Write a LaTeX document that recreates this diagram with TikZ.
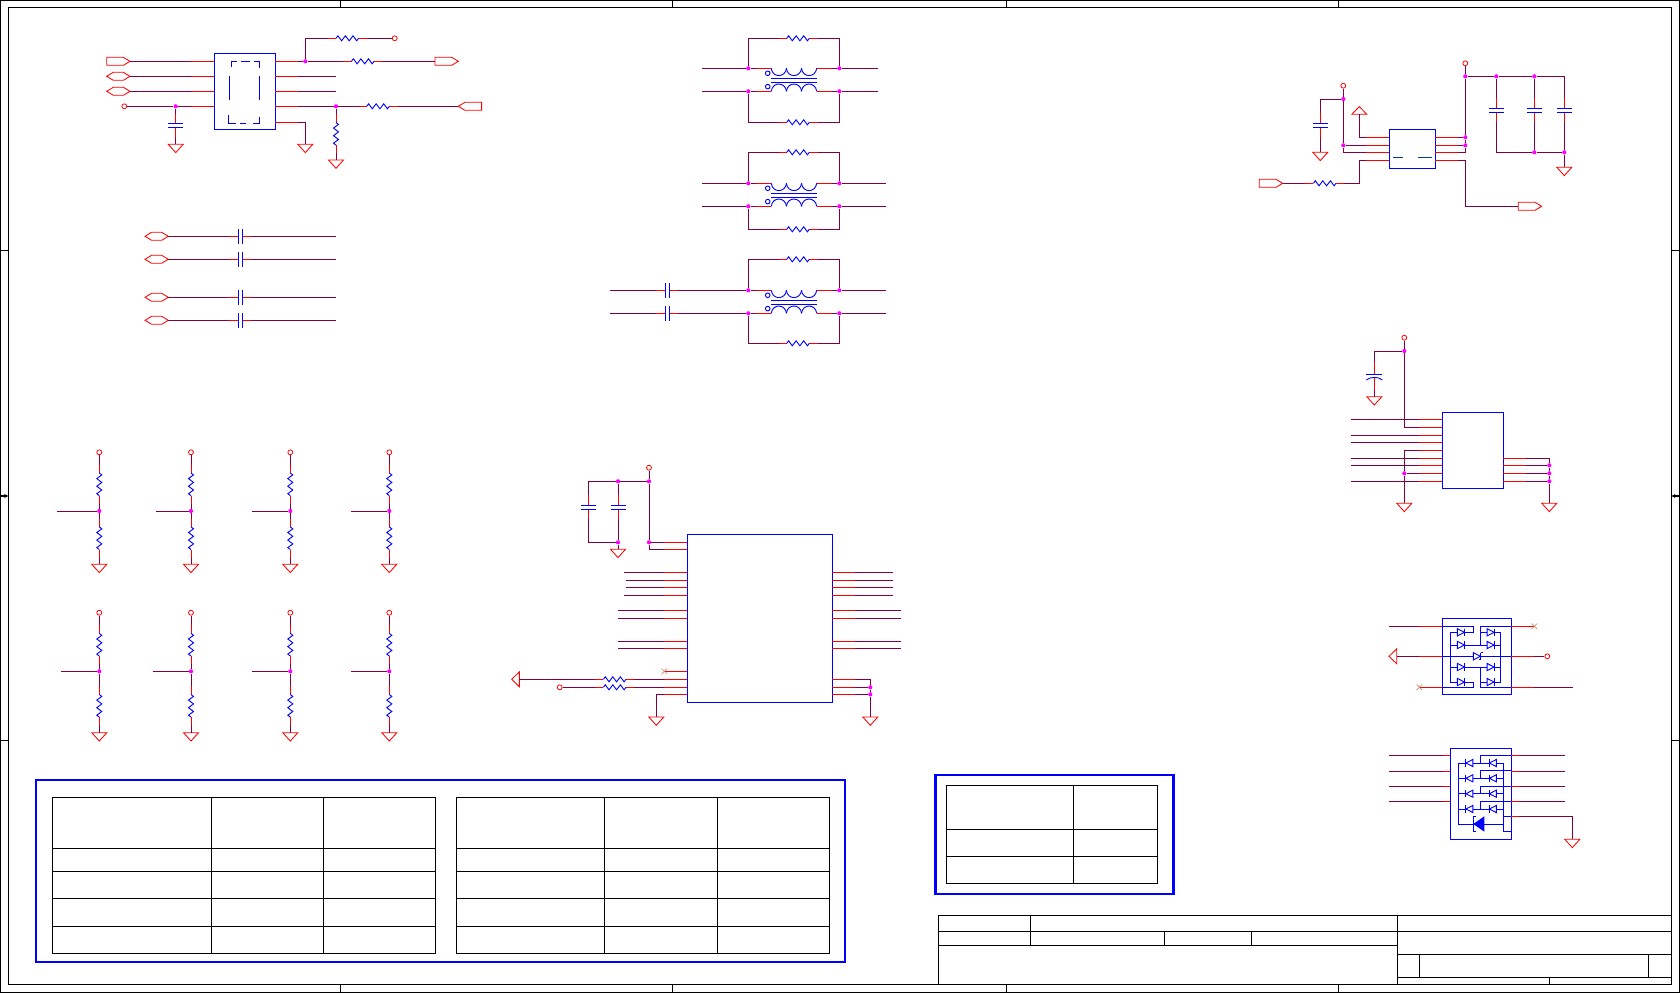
\documentclass[tikz,border=0pt]{standalone}
\usepackage{tikz}
\usetikzlibrary{arrows,shapes.misc}
\definecolor{wirec}{HTML}{800040}
\definecolor{partc}{HTML}{0000FF}
\definecolor{pinc}{HTML}{FF0000}
\definecolor{juncc}{HTML}{FF00FF}
\definecolor{ncc}{HTML}{C89070}
\definecolor{tealc}{HTML}{004080}

% Symbols
\tikzset{
  resh/.pic={
    \coordinate (-l) at (-19.5,0); \coordinate (-r) at (19.5,0);
    \draw[pinline] (-l) -- (-11.3,0) (11.3,0) -- (-r);
    \draw[partline] (-11.3,0) -- (-9.4,-2.5) -- (-5.7,2.5) -- (-1.9,-2.5) -- (1.9,2.5) -- (5.7,-2.5) -- (9.4,2.5) -- (11.3,0);
  },
  resv/.pic={
    \coordinate (-t) at (0,-19.5); \coordinate (-b) at (0,19.5);
    \draw[pinline] (-t) -- (0,-11.3) (0,11.3) -- (-b);
    \draw[partline] (0,-11.3) -- (2.5,-9.4) -- (-2.5,-5.7) -- (2.5,-1.9) -- (-2.5,1.9) -- (2.5,5.7) -- (-2.5,9.4) -- (0,11.3);
  },
  capv/.pic={
    \coordinate (-t) at (0,-12); \coordinate (-b) at (0,12);
    \draw[pinline] (-t) -- (0,-2) (0,2) -- (-b);
    \draw[partline] (-7.5,-2) -- (7.5,-2) (-7.5,2) -- (7.5,2);
  },
  capp/.pic={
    \coordinate (-t) at (0,-14); \coordinate (-b) at (0,14);
    \draw[pinline] (-t) -- (0,-2) (0,1) -- (-b);
    \draw[partline] (-8,-2) -- (8,-2);
    \draw[partline] (-8,4) .. controls (-4,0.5) and (4,0.5) .. (8,4);
  },
  caph/.pic={
    \coordinate (-l) at (-11,0); \coordinate (-r) at (11,0);
    \draw[pinline] (-l) -- (-2,0) (2,0) -- (-r);
    \draw[partline] (-2,-7.5) -- (-2,7.5) (2,-7.5) -- (2,7.5);
  },
  gnd/.pic={\draw[portline] (-7.5,0) -- (7.5,0) -- (0,8.3) -- cycle;},
  pwr/.pic={\draw[portline] (-7.5,0) -- (7.5,0) -- (0,-7.7) -- cycle;},
  portr/.pic={
    \coordinate (-w) at (0,0); \coordinate (-e) at (23.3,0);
    \draw[portline] (0,-4) -- (16.7,-4) -- (23.3,0) -- (16.7,4) -- (0,4) -- cycle;
  },
  portl/.pic={
    \coordinate (-w) at (0,0);
    \draw[portline] (23.3,-4) -- (6.6,-4) -- (0,0) -- (6.6,4) -- (23.3,4) -- cycle;
  },
  porth/.pic={
    \coordinate (-e) at (23.3,0);
    \draw[portline] (0,0) -- (6.6,-4) -- (16.7,-4) -- (23.3,0) -- (16.7,4) -- (6.6,4) -- cycle;
  },
  portt/.pic={
    \coordinate (-e) at (7.7,0);
    \draw[portline] (0,0) -- (7.7,-7.5) -- (7.7,7.5) -- cycle;
  },
  xfmr/.pic={
    \coordinate (-a) at (-38,0); \coordinate (-b) at (-38,23);
    \coordinate (-c) at (38,0); \coordinate (-d) at (38,23);
    \draw[pinline] (-a) -- (-22.7,0) (-b) -- (-22.7,23) (22.7,0) -- (-c) (22.7,23) -- (-d);
    \foreach \k in {-22.7,-7.6,7.5}
      \draw[partline] (\k,0) .. controls (\k+1,9.7) and (\k+14,9.7) .. (\k+15.2,0)
        (\k,23) .. controls (\k+1,13.3) and (\k+14,13.3) .. (\k+15.2,23);
    \draw[partline] (-23.3,10) -- (23.3,10) (-23.3,14) -- (23.3,14);
    \draw[partline] (-26.3,5) circle[radius=2.3] (-26.3,18.3) circle[radius=2.3];
  },
  diode/.pic={
    \draw[partline,fill=white] (-3.6,-3.6) -- (-3.6,3.6) -- (3.4,0) -- cycle;
    \draw[partline] (3.6,-3.6) -- (3.6,3.6);
  }
}

% Pins of a part: name, x of its edge, list of number/y
\newcommand{\pinsW}[3]{\foreach \i/\y in {#3}{\coordinate (#1w\i) at (#2-23,\y); \draw[pinline] (#1w\i) -- (#2,\y);}}
\newcommand{\pinsE}[3]{\foreach \i/\y in {#3}{\coordinate (#1e\i) at (#2+23,\y); \draw[pinline] (#2,\y) -- (#1e\i);}}

\begin{document}
\begin{tikzpicture}[> = stealth, x=0.05cm, y=-0.05cm]
    \useasboundingbox (0,0) rectangle (1680,993);

    % Styles
    \tikzstyle{wire}=[draw=wirec, line width=1.4pt]
    \tikzstyle{pinline}=[draw=pinc, line width=1.4pt]
    \tikzstyle{partline}=[draw=partc, line width=1.3pt]
    \tikzstyle{portline}=[draw=pinc, line width=1.2pt, line join=miter]
    \tikzstyle{part}=[rectangle, draw=partc, line width=1.8pt, inner sep=0pt]
    \tikzstyle{junc}=[circle, fill=juncc, inner sep=0pt, minimum size=6pt]
    \tikzstyle{term}=[circle, draw=pinc, line width=1.1pt, inner sep=0pt, minimum size=7pt]
    \tikzstyle{noconn}=[cross out, draw=ncc, line width=1pt, inner sep=0pt, minimum size=7pt]
    \tikzstyle{frameline}=[draw=black, line width=1.6pt]
    \tikzstyle{cellline}=[draw=black, line width=1.4pt]
    \tikzstyle{bandline}=[draw=partc, line width=3pt]

    % Sheet frame
    \draw[frameline] (0.7,0.7) rectangle (1679.3,992.3);
    \draw[frameline] (8.3,7.3) rectangle (1671.3,984.3);
    \foreach \x in {340.7,672.9,1006.3,1338.3}
      \draw[frameline] (\x,0.7) -- (\x,7.3) (\x,984.3) -- (\x,992.3);
    \foreach \y in {250.7,740.4}
      \draw[frameline] (0.7,\y) -- (8.3,\y) (1671.3,\y) -- (1679.3,\y);
    \draw[frameline,->] (0.7,496) -- (8.3,496);
    \draw[frameline,->] (1679.3,496) -- (1671.3,496);

    % Title block
    \draw[cellline] (938.4,984.3) -- (938.4,915.3) -- (1671.3,915.3);
    \draw[cellline] (938.4,931.3) -- (1671.3,931.3);
    \draw[cellline] (938.4,945.3) -- (1397.5,945.3);
    \draw[cellline] (1030.5,915.3) -- (1030.5,945.3);
    \draw[cellline] (1164.3,931.3) -- (1164.3,945.3);
    \draw[cellline] (1251.6,931.3) -- (1251.6,945.3);
    \draw[cellline] (1397.5,915.3) -- (1397.5,984.3);
    \draw[cellline] (1397.5,954.3) -- (1671.3,954.3);
    \draw[cellline] (1397.5,977.3) -- (1671.3,977.3);
    \draw[cellline] (1419.8,954.3) -- (1419.8,977.3);
    \draw[cellline] (1648.5,954.3) -- (1648.5,977.3);
    \draw[cellline] (1549.7,977.3) -- (1549.7,984.3);

    % Tables
    \draw[bandline] (36,780) rectangle (845,962);
    \draw[bandline] (935.5,775) rectangle (1173.5,894);
    \foreach \xa/\xb/\xc/\xd in {52.7/211.2/323.2/435.7,456.5/604.4/717.4/829.3}{
      \draw[cellline] (\xa,797.3) rectangle (\xd,953.3);
      \draw[cellline] (\xb,797.3) -- (\xb,953.3) (\xc,797.3) -- (\xc,953.3);
      \foreach \y in {848.3,871.3,898.3,926.3}
        \draw[cellline] (\xa,\y) -- (\xd,\y);
    }
    \draw[cellline] (946.7,785.3) rectangle (1157.5,883.3);
    \draw[cellline] (1073.7,785.3) -- (1073.7,883.3);
    \draw[cellline] (946.7,829.3) -- (1157.5,829.3) (946.7,856.3) -- (1157.5,856.3);

    % Oscillator block, top left
    \node[part, minimum width=3.05cm, minimum height=3.8cm] (U1) at (244.8,91.3) {};
    \pinsW{A}{214.3}{1/61.3,2/76.3,3/91.3,4/106.3}
    \pinsE{A}{275.3}{1/61.3,2/76.3,3/91.3,4/106.3,5/122.3}
    \draw[partline] (231,66.7) -- (231,61.3) -- (237,61.3) (241,61.3) -- (250,61.3) (254,61.3) -- (259.7,61.3) -- (259.7,68.3);
    \draw[partline] (259.7,76) -- (259.7,100) (229.3,76) -- (229.3,100);
    \draw[partline] (259.7,116.7) -- (259.7,123.7) -- (253,123.7) (246,123.7) -- (240,123.7) (236,123.7) -- (228.3,123.7) -- (228.3,115);
    \pic (P1) at (106.7,61.3) {portr};
    \pic (P2) at (106.7,76.3) {porth};
    \pic (P3) at (106.7,91.3) {porth};
    \node[term] (T1) at (124.3,106.3) {};
    \node[junc] (J1) at (175.7,106.3) {};
    \pic (C1) at (175.7,125.5) {capv};
    \coordinate (G1) at (175.7,144.3); \pic at (G1) {gnd};
    \node[junc] (J2) at (305.3,61.3) {};
    \node[junc] (J3) at (336,106.3) {};
    \pic (R1) at (347.3,38.3) {resh};
    \pic (R2) at (362.8,61.3) {resh};
    \pic (R3) at (378,106.3) {resh};
    \pic (R4) at (336,133.8) {resv};
    \node[term] (T2) at (394.7,38.3) {};
    \pic (P4) at (435,61.3) {portr};
    \pic (P5) at (458.3,106.3) {portl};
    \coordinate (G2) at (305.3,144.3); \pic at (G2) {gnd};
    \coordinate (G3) at (336,160); \pic at (G3) {gnd};
    \coordinate (E2) at (336,76.3);
    \coordinate (E3) at (336,91.3);
    \draw[wire] (P1-e) -- (Aw1);
    \draw[wire] (P2-e) -- (Aw2);
    \draw[wire] (P3-e) -- (Aw3);
    \draw[wire] (T1) -- (J1);
    \draw[wire] (J1) -- (Aw4);
    \draw[wire] (J1) -- (C1-t);
    \draw[wire] (C1-b) -- (G1);
    \draw[wire] (Ae1) -- (J2);
    \draw[wire] (J2) -- (R2-l);
    \draw[wire] (R2-r) -- (P4-w);
    \draw[wire] (J2) |- (R1-l);
    \draw[wire] (R1-r) -- (T2);
    \draw[wire] (Ae2) -- (E2);
    \draw[wire] (Ae3) -- (E3);
    \draw[wire] (Ae4) -- (J3);
    \draw[wire] (J3) -- (R3-l);
    \draw[wire] (R3-r) -- (P5-w);
    \draw[wire] (J3) -- (R4-t);
    \draw[wire] (R4-b) -- (G3);
    \draw[wire] (Ae5) -| (G2);

    % Series capacitors
    \foreach \n/\y in {1/236.3,2/259.3,3/297.3,4/320.3}{
      \pic (D\n) at (145,\y) {porth};
      \pic (CS\n) at (240.3,\y) {caph};
      \coordinate (EC\n) at (336,\y);
      \draw[wire] (D\n-e) -- (CS\n-l);
      \draw[wire] (CS\n-r) -- (EC\n);
    }

    % Common mode chokes
    \foreach \n/\ya/\yt/\yu/\xe in {1/68.3/38.3/122.3/878,2/183.3/152.3/229.3/886,3/290.3/259.3/343.3/886}{
      \pic (X\n) at (794,\ya) {xfmr};
      \pic (RT\n) at (798,\yt) {resh};
      \pic (RB\n) at (798,\yu) {resh};
      \node[junc] (JA\n) at (748.3,\ya) {};
      \node[junc] (JB\n) at (839.3,\ya) {};
      \node[junc] (JC\n) at (748.3,\ya+23) {};
      \node[junc] (JD\n) at (839.3,\ya+23) {};
      \coordinate (EA\n) at (\xe,\ya);
      \coordinate (EB\n) at (\xe,\ya+23);
      \draw[wire] (JA\n) |- (RT\n-l);
      \draw[wire] (RT\n-r) -| (JB\n);
      \draw[wire] (JC\n) |- (RB\n-l);
      \draw[wire] (RB\n-r) -| (JD\n);
      \draw[wire] (JA\n) -- (X\n-a);
      \draw[wire] (JC\n) -- (X\n-b);
      \draw[wire] (X\n-c) -- (JB\n);
      \draw[wire] (X\n-d) -- (JD\n);
      \draw[wire] (JB\n) -- (EA\n);
      \draw[wire] (JD\n) -- (EB\n);
    }
    \foreach \n in {1,2}{
      \coordinate (LA\n) at (702,0 |- JA\n);
      \coordinate (LC\n) at (702,0 |- JC\n);
      \draw[wire] (LA\n) -- (JA\n);
      \draw[wire] (LC\n) -- (JC\n);
    }
    \pic (CX1) at (667.3,290.3) {caph};
    \pic (CX2) at (667.3,313.3) {caph};
    \coordinate (LA3) at (610,290.3);
    \coordinate (LC3) at (610,313.3);
    \draw[wire] (LA3) -- (CX1-l);
    \draw[wire] (LC3) -- (CX2-l);
    \draw[wire] (CX1-r) -- (JA3);
    \draw[wire] (CX2-r) -- (JC3);

    % Regulator block, top right
    \node[part, minimum width=2.3cm, minimum height=1.95cm] (U2) at (1412.3,148.8) {};
    \pinsW{B}{1389.3}{1/137.3,2/145.3,3/152.3,4/160.3}
    \pinsE{B}{1435.3}{1/137.3,2/145.3,3/152.3,4/160.3}
    \draw[draw=tealc, line width=1.3pt] (1393,157.3) -- (1403.3,157.3) (1417.7,157.3) -- (1431.7,157.3);
    \coordinate (PW1) at (1359.3,114.3); \pic at (PW1) {pwr};
    \node[term] (T3) at (1343.3,85.7) {};
    \node[junc] (J4) at (1343.3,99) {};
    \node[junc] (J5) at (1343.3,145.3) {};
    \pic (C2) at (1320.3,125.3) {capv};
    \coordinate (G4) at (1320.3,152.3); \pic at (G4) {gnd};
    \pic (R5) at (1324.7,183.3) {resh};
    \pic (P6) at (1259.3,183.3) {portr};
    \coordinate (K1) at (1359.3,183.3);
    \draw[wire] (Bw1) -| (PW1);
    \draw[wire] (T3) -- (J4);
    \draw[wire] (J4) -- (J5);
    \draw[wire] (J5) -- (Bw2);
    \draw[wire] (J5) |- (Bw3);
    \draw[wire] (J4) -| (C2-t);
    \draw[wire] (C2-b) -- (G4);
    \draw[wire] (Bw4) -| (K1) -- (R5-r);
    \draw[wire] (R5-l) -- (P6-e);
    \node[term] (T4) at (1465.3,63.3) {};
    \node[junc] (J6) at (1465.3,76.3) {};
    \node[junc] (J7) at (1465.3,137.3) {};
    \node[junc] (J8) at (1465.3,145.3) {};
    \node[junc] (J9) at (1496.3,76.3) {};
    \node[junc] (J10) at (1534.3,76.3) {};
    \node[junc] (J11) at (1534.3,152.3) {};
    \node[junc] (J12) at (1564.3,152.3) {};
    \coordinate (K2) at (1564.3,76.3);
    \coordinate (K3) at (1496.3,152.3);
    \coordinate (K4) at (1465.3,206.3);
    \pic (C3) at (1496.3,110.3) {capv};
    \pic (C4) at (1534.3,110.3) {capv};
    \pic (C5) at (1564.3,110.3) {capv};
    \coordinate (G5) at (1564.3,167.3); \pic at (G5) {gnd};
    \pic (P7) at (1518.3,206.3) {portr};
    \draw[wire] (T4) -- (J6);
    \draw[wire] (J6) -- (J7);
    \draw[wire] (J7) -- (J8);
    \draw[wire] (Be1) -- (J7);
    \draw[wire] (Be2) -- (J8);
    \draw[wire] (J8) |- (Be3);
    \draw[wire] (J6) -- (J9);
    \draw[wire] (J9) -- (J10);
    \draw[wire] (J10) -- (K2);
    \draw[wire] (J9) -- (C3-t);
    \draw[wire] (J10) -- (C4-t);
    \draw[wire] (K2) -- (C5-t);
    \draw[wire] (C3-b) -- (K3) -- (J11);
    \draw[wire] (J11) -- (J12);
    \draw[wire] (C4-b) -- (J11);
    \draw[wire] (C5-b) -- (J12);
    \draw[wire] (J12) -- (G5);
    \draw[wire] (Be4) -| (K4) -- (P7-w);

    % Logic block, right
    \node[part, minimum width=3.05cm, minimum height=3.8cm] (U3) at (1472.8,450.3) {};
    \pinsW{E}{1442.3}{1/419.3,2/427.3,3/435.3,4/442.3,5/450.3,6/458.3,7/465.3,8/473.3,9/481.3}
    \pinsE{E}{1503.3}{1/458.3,2/465.3,3/473.3,4/481.3}
    \foreach \i/\y in {1/419.3,3/435.3,4/442.3,6/458.3,7/465.3,9/481.3}{
      \coordinate (EF\i) at (1351,\y);
      \draw[wire] (EF\i) -- (Ew\i);
    }
    \node[term] (T5) at (1404.3,337.7) {};
    \node[junc] (J13) at (1404.3,351) {};
    \node[junc] (J14) at (1404.3,473.3) {};
    \pic (C6) at (1374.3,376) {capp};
    \coordinate (G6) at (1374.3,396.7); \pic at (G6) {gnd};
    \coordinate (G7) at (1404.3,503.3); \pic at (G7) {gnd};
    \coordinate (G8) at (1549.3,503.3); \pic at (G8) {gnd};
    \node[junc] (J15) at (1549.3,465.3) {};
    \node[junc] (J16) at (1549.3,473.3) {};
    \node[junc] (J17) at (1549.3,481.3) {};
    \draw[wire] (T5) -- (J13);
    \draw[wire] (J13) |- (Ew2);
    \draw[wire] (J13) -| (C6-t);
    \draw[wire] (C6-b) -- (G6);
    \draw[wire] (Ew5) -| (J14);
    \draw[wire] (J14) -- (G7);
    \draw[wire] (Ew8) -- (J14);
    \draw[wire] (Ee1) -| (J15);
    \draw[wire] (J15) -- (J16);
    \draw[wire] (J16) -- (J17);
    \draw[wire] (J17) -- (G8);
    \draw[wire] (Ee2) -- (J15);
    \draw[wire] (Ee3) -- (J16);
    \draw[wire] (Ee4) -- (J17);

    % Diode array with three lines
    \node[part, minimum width=3.45cm, minimum height=3.8cm] (U4) at (1476.8,656.3) {};
    \pinsW{F}{1442.3}{1/626.3,2/656.3,3/687.3}
    \pinsE{F}{1511.3}{1/626.3,2/656.3,3/687.3}
    \draw[partline] (1442.3,626.3) -- (1473.3,626.3) -- (1473.3,632.3) -- (1450.3,632.3) -- (1450.3,682) -- (1473.3,682) -- (1473.3,687.3) -- (1442.3,687.3);
    \draw[partline] (1511.3,626.3) -- (1480.3,626.3) -- (1480.3,645);
    \draw[partline] (1480.3,632.3) -- (1500.7,632.3) -- (1500.7,682) -- (1480.3,682);
    \draw[partline] (1480.3,667) -- (1480.3,687.3) -- (1511.3,687.3);
    \draw[partline] (1450.3,645) -- (1500.7,645) (1450.3,667) -- (1500.7,667) (1442.3,656.3) -- (1511.3,656.3);
    \foreach \y in {632.3,645,667,682}{
      \pic at (1461,\y) {diode};
      \pic at (1490.7,\y) {diode};
    }
    \pic at (1477,656.3) {diode};
    \draw[partline] (1480.6,652.7) -- (1482.6,652.7) (1480.6,659.9) -- (1478.6,659.9);
    \coordinate (F1) at (1389,626.3);
    \pic (P8) at (1389,656.3) {portt};
    \node[noconn] (N1) at (Fw3) {};
    \node[noconn] (N2) at (Fe1) {};
    \node[term] (T6) at (1547.3,656.3) {};
    \coordinate (F2) at (1572.7,687.3);
    \draw[wire] (F1) -- (Fw1);
    \draw[wire] (P8-e) -- (Fw2);
    \draw[wire] (Fe2) -- (T6);
    \draw[wire] (Fe3) -- (F2);

    % Diode array with four lines
    \node[part, minimum width=3.05cm, minimum height=4.55cm] (U5) at (1480.8,793.8) {};
    \foreach \i/\y in {1/755.3,2/771.3,3/786.3,4/801.3}{
      \coordinate (HL\i) at (1389,\y);
      \coordinate (HR\i) at (1564.7,\y);
      \coordinate (HA\i) at (1442.8,\y);
      \coordinate (HB\i) at (1518.8,\y);
      \draw[wire] (HL\i) -- (HA\i);
      \draw[wire] (HB\i) -- (HR\i);
      \draw[pinline] (HA\i) -- (1450.3,\y);
      \draw[pinline] (1511.3,\y) -- (HB\i);
    }
    \foreach \y in {763,778.3,793.7,809}{
      \draw[partline] (1458,\y) -- (1503.7,\y) (1480.7,\y) -- (1480.7,\y-7.7) -- (1511.3,\y-7.7);
      \pic[xscale=-1] at (1469.3,\y) {diode};
      \pic[xscale=-1] at (1492.8,\y) {diode};
    }
    \draw[partline] (1458,763) -- (1458,824) -- (1503.7,824);
    \draw[partline] (1503.7,763) -- (1503.7,831.7) -- (1511.3,831.7) (1503.7,816.3) -- (1511.3,816.3);
    \fill[partc] (1473.3,824) -- (1484.3,816.3) -- (1484.3,831.7) -- cycle;
    \draw[partline] (1476,816.3) -- (1473.3,816.3) -- (1473.3,831.7) -- (1476,831.7);
    \coordinate (HB5) at (1518.8,816.3);
    \draw[pinline] (1511.3,816.3) -- (HB5);
    \coordinate (G9) at (1572.3,839.3); \pic at (G9) {gnd};
    \draw[wire] (HB5) -| (G9);

    % Transceiver, centre
    \node[part, minimum width=7.25cm, minimum height=8.4cm] (U6) at (759.8,618.3) {};
    \pinsW{M}{687.3}{1/542.3,2/549.3,3/572.3,4/580.3,5/587.3,6/595.3,7/610.3,8/618.3,9/641.3,10/648.3,11/671.3,12/679.3,13/687.3,14/694.3}
    \pinsE{M}{832.3}{3/572.3,4/580.3,5/587.3,6/595.3,7/610.3,8/618.3,9/641.3,10/648.3,12/679.3,13/687.3,14/694.3}
    \foreach \i/\x in {3/624,4/626,5/626,6/624,7/618,8/618,9/618,10/618}{
      \coordinate (MF\i) at (\x,0 |- Mw\i);
      \draw[wire] (MF\i) -- (Mw\i);
    }
    \foreach \i/\x in {3/893.3,4/893.3,5/893.3,6/893.3,7/901.3,8/901.3,9/901.3,10/901.3}{
      \coordinate (MG\i) at (\x,0 |- Me\i);
      \draw[wire] (Me\i) -- (MG\i);
    }
    \node[term] (T7) at (649,467.7) {};
    \node[junc] (J18) at (649,481.3) {};
    \node[junc] (J19) at (649,542.3) {};
    \node[junc] (J20) at (618,481.3) {};
    \node[junc] (J21) at (618,542.3) {};
    \coordinate (K5) at (588.3,481.3);
    \coordinate (K6) at (588.3,542.3);
    \pic (C7) at (588.3,507.3) {capv};
    \pic (C8) at (618,507.3) {capv};
    \coordinate (G10) at (618,549.3); \pic at (G10) {gnd};
    \draw[wire] (T7) -- (J18);
    \draw[wire] (J18) -- (J19);
    \draw[wire] (J19) -- (Mw1);
    \draw[wire] (J19) |- (Mw2);
    \draw[wire] (J18) -- (J20);
    \draw[wire] (J20) -- (K5) -- (C7-t);
    \draw[wire] (J20) -- (C8-t);
    \draw[wire] (C7-b) -- (K6) -- (J21);
    \draw[wire] (C8-b) -- (J21);
    \draw[wire] (J21) -- (G10);
    \node[noconn] (N3) at (Mw11) {};
    \pic (P9) at (511.7,679.3) {portt};
    \node[term] (T8) at (559.7,687.3) {};
    \pic (R6) at (614.7,679.3) {resh};
    \pic (R7) at (614.7,687.3) {resh};
    \coordinate (G11) at (656.3,717); \pic at (G11) {gnd};
    \coordinate (G12) at (870.3,717); \pic at (G12) {gnd};
    \node[junc] (J22) at (870.3,687.3) {};
    \node[junc] (J23) at (870.3,694.3) {};
    \draw[wire] (P9-e) -- (R6-l);
    \draw[wire] (R6-r) -- (Mw12);
    \draw[wire] (T8) -- (R7-l);
    \draw[wire] (R7-r) -- (Mw13);
    \draw[wire] (Mw14) -| (G11);
    \draw[wire] (Me12) -| (J22);
    \draw[wire] (J22) -- (J23);
    \draw[wire] (J23) -- (G12);
    \draw[wire] (Me13) -- (J22);
    \draw[wire] (Me14) -- (J23);

    % Pull-up and pull-down dividers
    \foreach \n/\x/\xa/\ya/\yb/\yc/\yd/\ye in {
        1/99.3/57/452.3/484.3/511/538.2/564.3,
        2/191/156.3/452.3/484.3/511/538.2/564.3,
        3/290.3/252/452.3/484.3/511/538.2/564.3,
        4/389.3/351/452.3/484.3/511/538.2/564.3,
        5/99.3/61/612.7/644.7/671.3/705.8/732.7,
        6/191/152.7/612.7/644.7/671.3/705.8/732.7,
        7/290.3/252/612.7/644.7/671.3/705.8/732.7,
        8/389.3/351/612.7/644.7/671.3/705.8/732.7}{
      \node[term] (VT\n) at (\x,\ya) {};
      \pic (VA\n) at (\x,\yb) {resv};
      \node[junc] (VJ\n) at (\x,\yc) {};
      \pic (VB\n) at (\x,\yd) {resv};
      \coordinate (VG\n) at (\x,\ye); \pic at (VG\n) {gnd};
      \coordinate (VL\n) at (\xa,\yc);
      \draw[wire] (VT\n) -- (VA\n-t);
      \draw[wire] (VA\n-b) -- (VJ\n);
      \draw[wire] (VJ\n) -- (VB\n-t);
      \draw[wire] (VB\n-b) -- (VG\n);
      \draw[wire] (VL\n) -- (VJ\n);
    }
\end{tikzpicture}
\end{document}
